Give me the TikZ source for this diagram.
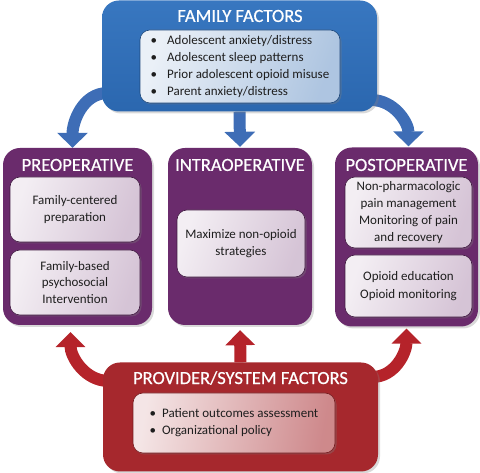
\documentclass[tikz,border=0pt]{standalone}
\usepackage{fontspec}
\setmainfont{Carlito}
\newfontfamily\titlefont{Carlito}[FakeBold=0.6]
\usetikzlibrary{arrows.meta,shadows,backgrounds}
\definecolor{famblue}{HTML}{2B67AF}
\definecolor{famtop}{HTML}{3877C0}
\definecolor{phasepurple}{HTML}{6A2B6C}
\definecolor{provred}{HTML}{A6282D}
\definecolor{arrowblue}{HTML}{3E6DB6}
\definecolor{arrowred}{HTML}{B5232A}
\definecolor{txt}{HTML}{1E1E1E}
\begin{document}
\begin{tikzpicture}[x=1pt,y=1pt,
  outbox/.style={rounded corners=17pt, drop shadow={opacity=0.3,shadow xshift=2pt,shadow yshift=-2pt}},
  inbox/.style={rounded corners=10pt, draw=#1, line width=0.6pt, align=center, text=txt,
    font=\fontsize{13}{16.8}\selectfont, drop shadow={opacity=0.35,shadow xshift=1.5pt,shadow yshift=-1.5pt}},
  lilac/.style={inbox=phasepurple!60!black, left color=white!92!phasepurple, right color=phasepurple!28, shading angle=70},
  title/.style={text=white, font=\titlefont\fontsize{18.5}{20}\selectfont},
  bluearrow/.style={draw=arrowblue, line width=12pt, -{Triangle[width=30pt,length=15pt]}},
  redarrow/.style={draw=arrowred, line width=12pt, -{Triangle[width=29pt,length=15pt]}}]
\useasboundingbox (0,0) rectangle (480,473);
% family factors
\node[outbox, top color=famtop, bottom color=famblue, minimum width=275pt, minimum height=111pt] (fam) at (239.5,417) {};
\node[title] (famtitle) at (240,457) {FAMILY FACTORS};
\node[inbox=famblue!70!black, left color=white!90!famblue, right color=famblue!38, shading angle=70,
  minimum width=200pt, minimum height=73pt, align=left] (famlist) at (240,406.5)
  {\textbullet\hspace{10pt}Adolescent anxiety/distress\\ \textbullet\hspace{10pt}Adolescent sleep patterns\\
   \textbullet\hspace{10pt}Prior adolescent opioid misuse\\ \textbullet\hspace{10pt}Parent anxiety/distress};
% phases
\node[outbox, fill=phasepurple, minimum width=149pt, minimum height=177pt] (pre) at (77.5,236.5) {};
\node[outbox, fill=phasepurple, minimum width=144pt, minimum height=177pt] (intra) at (240,236.5) {};
\node[outbox, fill=phasepurple, minimum width=143pt, minimum height=179pt] (post) at (406.5,236) {};
\node[title] (pretitle) at (77.5,308) {PREOPERATIVE};
\node[title] (intratitle) at (240,308) {INTRAOPERATIVE};
\node[title] (posttitle) at (406.5,308) {POSTOPERATIVE};
\node[lilac, minimum width=130pt, minimum height=65pt] (pre1) at (75,263.5) {Family-centered\\preparation};
\node[lilac, minimum width=130pt, minimum height=65pt] (pre2) at (75,190.5) {Family-based\\psychosocial\\Intervention};
\node[lilac, minimum width=128pt, minimum height=67pt] (intra1) at (241,229.5) {Maximize non-opioid\\strategies};
\node[lilac, minimum width=127pt, minimum height=71pt] (post1) at (408.5,260.5)
  {Non-pharmacologic\\pain management\\[1pt]Monitoring of pain\\and recovery};
\node[lilac, minimum width=127pt, minimum height=62pt] (post2) at (408.5,187) {Opioid education\\[1pt]Opioid monitoring};
% provider/system factors
\node[outbox, fill=provred, minimum width=275pt, minimum height=109pt] (prov) at (240.5,56) {};
\node[title] (provtitle) at (240.5,95) {PROVIDER/SYSTEM FACTORS};
\node[inbox=provred!70!black, left color=white!88!provred, right color=provred!55!white, shading angle=80,
  minimum width=202pt, minimum height=60pt, align=left] (provlist) at (234,50)
  {\textbullet\hspace{6pt}Patient outcomes assessment\\ \textbullet\hspace{6pt}Organizational policy};
% arrows
\begin{scope}[on background layer]
\draw[bluearrow] ([xshift=6pt,yshift=-37pt]fam.west) to[out=180,in=90] ([xshift=-5pt]pre.north);
\draw[bluearrow] (fam.south) -- ([yshift=1pt]intra.north);
\draw[bluearrow] ([xshift=-6pt,yshift=-44pt]fam.east) to[out=0,in=90] ([xshift=2pt,yshift=1pt]post.north);
\draw[redarrow] ([xshift=6pt,yshift=36pt]prov.west) to[out=180,in=-90] ([xshift=-7pt,yshift=-7pt]pre.south);
\draw[redarrow] (prov.north) -- ([yshift=-5pt]intra.south);
\draw[redarrow] ([xshift=-6pt,yshift=40pt]prov.east) to[out=0,in=-90] ([yshift=-2pt]post.south);
\end{scope}
\end{tikzpicture}
\end{document}
